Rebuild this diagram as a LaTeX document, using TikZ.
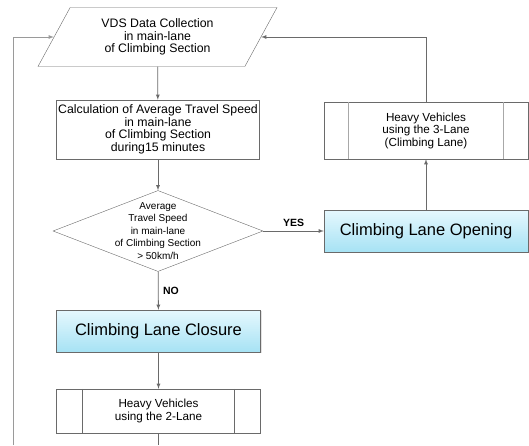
\documentclass[tikz,border=0pt]{standalone}
\usepackage{fontspec}
\setmainfont{Liberation Sans}
\usetikzlibrary{shapes.geometric, arrows, shadows}

\definecolor{linegray}{HTML}{6A6A6A}
\definecolor{loopgray}{HTML}{9A9A9A}
\definecolor{sidegray}{HTML}{A8A8A8}
\definecolor{skytop}{HTML}{E6F8FE}
\definecolor{skybot}{HTML}{A6E2F4}

\tikzset{
	io/.style={trapezium, trapezium left angle=48.6, trapezium right angle=131.4,
		trapezium stretches body, draw=linegray, align=center, inner sep=0pt,
		minimum width=239pt, minimum height=59pt, font=\fontsize{12.3}{12.5}\selectfont},
	process/.style={rectangle, draw=linegray, align=center, inner sep=0pt,
		minimum width=203pt, minimum height=59pt, font=\fontsize{12.3}{12.5}\selectfont},
	decision/.style={diamond, draw=linegray, align=center, aspect=2.6, inner sep=-12pt,
		minimum width=210pt, minimum height=81pt, font=\fontsize{10}{12.4}\selectfont},
	action/.style={rectangle, draw=linegray, top color=skytop, bottom color=skybot,
		drop shadow={shadow xshift=1pt, shadow yshift=-1.2pt, fill=gray!45},
		minimum width=204pt, minimum height=42pt, font=\fontsize{16.5}{18}\selectfont},
	subproc/.style={rectangle, draw=linegray, align=center, inner sep=0pt,
		minimum width=204pt, font=\fontsize{11.7}{12.5}\selectfont},
	answer/.style={font=\fontsize{10.5}{12}\selectfont\bfseries},
	line/.style={draw=linegray, line width=0.8pt},
}

\begin{document}
\begin{tikzpicture}[x=1pt, y=1pt, >=latex]
	\useasboundingbox (0,0) rectangle (529,445);
	% left column
	\node[io] (vds) at (157.5,408) {VDS Data Collection\\in main-lane\\of Climbing Section};
	\node[process] (calc) at (158,315.5) {Calculation of Average Travel Speed\\in main-lane\\of Climbing Section\\during15 minutes};
	\node[decision] (speed) at (158,214) {Average\\Travel Speed\\in main-lane\\of Climbing Section\\> 50km/h};
	\node[action] (close) at (158.5,114) {Climbing Lane Closure};
	\node[subproc, minimum height=44pt] (lane2) at (158.5,34) {Heavy Vehicles\\using the 2-Lane};
	% right column
	\node[action] (open) at (426,214) {Climbing Lane Opening};
	\node[subproc, minimum height=57pt] (lane3) at (426,314.5) {Heavy Vehicles\\using the 3-Lane\\(Climbing Lane)};

	% side bars of the sub-process boxes
	\draw[sidegray, line width=0.8pt] ([xshift=25pt]lane3.north west) -- ([xshift=25pt]lane3.south west);
	\draw[sidegray, line width=0.8pt] ([xshift=-25pt]lane3.north east) -- ([xshift=-25pt]lane3.south east);
	\draw[linegray, line width=0.8pt] ([xshift=26pt]lane2.north west) -- ([xshift=26pt]lane2.south west);
	\draw[linegray, line width=0.8pt] ([xshift=-26pt]lane2.north east) -- ([xshift=-26pt]lane2.south east);

	% connectors
	\draw[line, ->] (vds) -- (calc);
	\draw[line, ->] (calc) -- (speed);
	\draw[line, ->] (speed) -- node[answer, above=1pt] {YES} (open);
	\draw[line, ->] (speed) -- node[answer, right=1pt] {NO} (close);
	\draw[line, ->] (close) -- (lane2);
	\draw[line, ->] (open) -- (lane3);
	\draw[line, ->] (lane3.north) |- (vds.east);
	\coordinate (down) at (158.5,0);
	\draw[line] (lane2) -- (down);
	\coordinate (back) at (13,0);
	\draw[line, draw=loopgray, ->] (back) |- (vds.west);
\end{tikzpicture}
\end{document}
